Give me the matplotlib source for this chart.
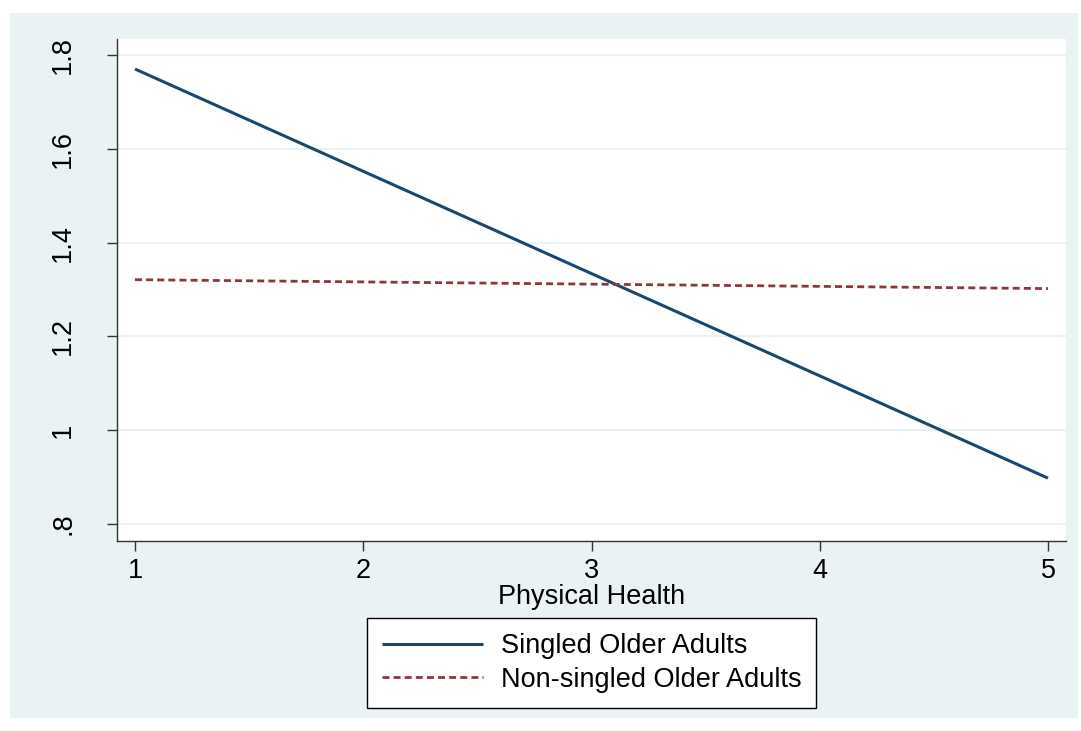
import matplotlib
matplotlib.use("Agg")
import matplotlib.pyplot as plt
from matplotlib.patches import Rectangle

plt.rcParams['font.family'] = ['Liberation Sans', 'DejaVu Sans']

x_values = [1, 5]
singled = [1.770, 0.898]
non_singled = [1.321, 1.302]
series_labels = ["Singled Older Adults", "Non-singled Older Adults"]
x_ticks = [1, 2, 3, 4, 5]
y_ticks = [0.8, 1.0, 1.2, 1.4, 1.6, 1.8]
y_tick_labels = [".8", "1", "1.2", "1.4", "1.6", "1.8"]
x_label = "Physical Health"

W, H = 1081, 731
fig = plt.figure(figsize=(W / 100, H / 100), dpi=100)
fig.patch.set_facecolor('white')
bg = '#EAF2F3'
fig.patches.append(Rectangle((10 / W, 1 - 718 / H), (1078 - 10) / W, (718 - 13) / H,
                             transform=fig.transFigure, facecolor=bg, edgecolor='none', zorder=0))

ax = fig.add_axes([117 / W, 1 - 541 / H, (1066 - 117) / W, (541 - 39) / H])
ax.set_facecolor('white')
ax.set_zorder(1)

navy = '#1a476f'
maroon = '#90353b'
FS = 19.5
l1, = ax.plot(x_values, singled, color=navy, lw=2.2, solid_capstyle='butt', label=series_labels[0])
l2, = ax.plot(x_values, non_singled, color=maroon, lw=2.0, dashes=(2.5, 1.5), label=series_labels[1])

ax.set_xlim(0.921, 5.079)
ax.set_ylim(0.764, 1.834)
ax.set_xticks(x_ticks)
ax.set_xticklabels([str(t) for t in x_ticks])
ax.set_yticks(y_ticks)
ax.set_yticklabels(y_tick_labels, rotation=90, va='center')
ax.grid(axis='y', color=bg, lw=1.5)
ax.set_axisbelow(True)
for s in ['top', 'right']:
    ax.spines[s].set_visible(False)
for s in ['left', 'bottom']:
    ax.spines[s].set_color('#333333')
    ax.spines[s].set_linewidth(1.0)
ax.tick_params(axis='both', labelsize=FS, length=7.5, width=1, color='#333333')
ax.tick_params(axis='y', pad=22)
ax.tick_params(axis='x', pad=5)
ax.set_xlabel(x_label, fontsize=FS, labelpad=0)

leg = fig.legend(handles=[l1, l2], loc='center', bbox_to_anchor=((363 + 820) / 2 / W, 1 - (622 + 704) / 2 / H),
                 fontsize=FS, frameon=True, fancybox=False, edgecolor='black', framealpha=1,
                 handlelength=3.75, handletextpad=0.65, labelspacing=0.28, borderpad=0.55, borderaxespad=0)
leg.get_frame().set_linewidth(1.0)

fig.savefig('out.png', dpi=100)
